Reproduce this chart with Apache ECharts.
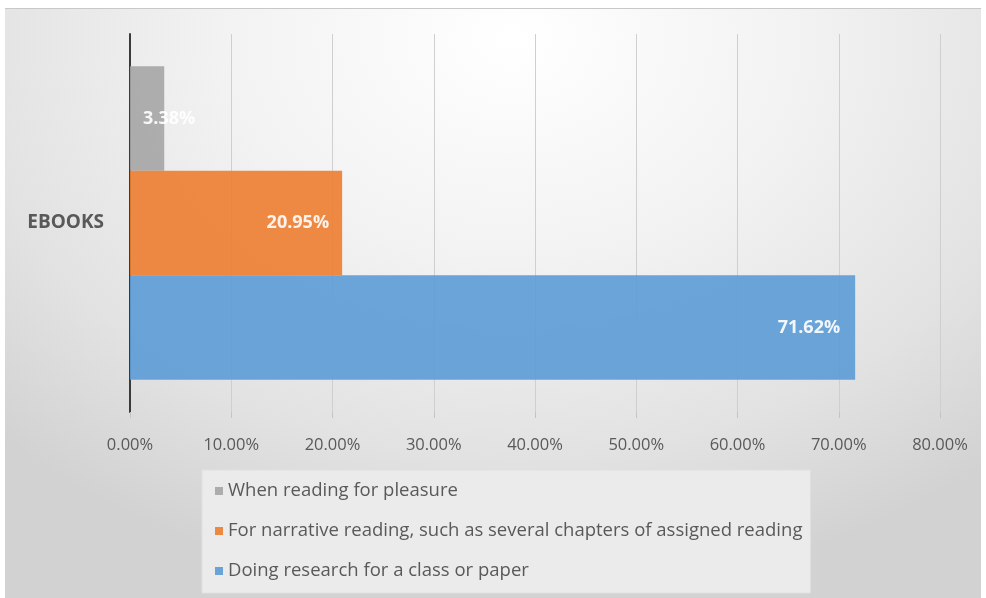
<!DOCTYPE html>
<html>
<head>
<meta charset="utf-8">
<script src="https://cdn.jsdelivr.net/npm/echarts@6/dist/echarts.min.js"></script>
<style>
  html, body { margin: 0; padding: 0; background: #ffffff; }
  #wrap { position: relative; width: 986px; height: 598px; overflow: hidden; }
  #panel {
    position: absolute; left: 5px; top: 8px; right: 5px; bottom: 0;
    border-top: 1px solid #c8c8c8;
    background: radial-gradient(ellipse 75% 95% at 52% 5%, #ffffff 0%, #f2f2f2 40%, #e2e2e2 75%, #d2d2d2 100%);
  }
  #chart { position: absolute; left: 0; top: 0; width: 986px; height: 598px; }
</style>
</head>
<body>
<div id="wrap">
  <div id="panel"></div>
  <div id="chart"></div>
</div>
<script>
// Share of eBook use by reading purpose (percent)
const categories = ['EBOOKS'];
const seriesNames = [
  'When reading for pleasure',
  'For narrative reading, such as several chapters of assigned reading',
  'Doing research for a class or paper'
];
const pleasureValues = [3.38];
const narrativeValues = [20.95];
const researchValues = [71.62];
const colors = ['#a5a5a5', '#ed7d31', '#5b9bd5'];

const FONT = '"Open Sans", "Noto Sans", sans-serif';
const pct = v => v.toFixed(2) + '%';

function barLabel(position, distance) {
  return {
    show: true,
    position: position,
    distance: distance,
    color: '#ffffff',
    fontWeight: 'bold',
    fontSize: 18,
    fontFamily: FONT,
    formatter: p => pct(p.value)
  };
}

// Series are laid out top to bottom within the category band.
const series = [
  { name: seriesNames[0], data: pleasureValues, color: colors[0], label: barLabel('insideLeft', 13) },
  { name: seriesNames[1], data: narrativeValues, color: colors[1], label: barLabel('insideRight', 13) },
  { name: seriesNames[2], data: researchValues, color: colors[2], label: barLabel('insideRight', 15) }
].map(s => Object.assign({
  type: 'bar',
  barGap: '0%',
  barCategoryGap: '17%',
  itemStyle: { color: s.color, opacity: 0.9 }
}, s));

const chart = echarts.init(document.getElementById('chart'), null, { renderer: 'canvas' });
chart.setOption({
  animation: false,
  backgroundColor: 'transparent',
  textStyle: { fontFamily: FONT },
  grid: { left: 130, right: 46, top: 34, bottom: 186, containLabel: false },
  xAxis: {
    type: 'value',
    min: 0,
    max: 80,
    interval: 10,
    axisLine: { show: false },
    axisTick: { show: true, length: 6, lineStyle: { color: '#c4c4c4' } },
    splitLine: { show: true, lineStyle: { color: '#cfcfcf', width: 1 } },
    axisLabel: { color: '#595959', fontSize: 16.5, fontFamily: FONT, margin: 25, formatter: v => pct(v) }
  },
  yAxis: {
    type: 'category',
    data: categories,
    inverse: true,
    axisLine: { show: true, lineStyle: { color: '#3a3a3a', width: 2 } },
    axisTick: { show: false },
    axisLabel: { color: '#595959', fontSize: 19, fontWeight: 'bold', fontFamily: FONT, margin: 26 }
  },
  legend: {
    orient: 'vertical',
    left: 202,
    top: 470,
    data: seriesNames,
    icon: 'rect',
    itemWidth: 8,
    itemHeight: 8,
    itemGap: 20,
    padding: [11, 8, 12, 13],
    backgroundColor: '#ebebeb',
    borderColor: '#e0e0e0',
    borderWidth: 1,
    textStyle: { color: '#595959', fontSize: 18.5, lineHeight: 20, fontFamily: FONT }
  },
  series: series
});
</script>
</body>
</html>
